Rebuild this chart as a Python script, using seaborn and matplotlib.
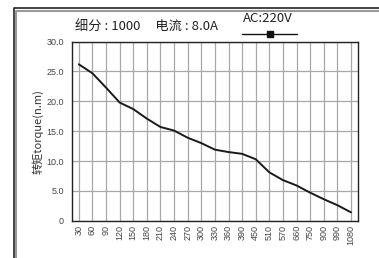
import pandas as pd
import seaborn as sns
import matplotlib.pyplot as plt
from matplotlib.lines import Line2D

# datos
velocidad = ['30', '60', '90', '120', '150', '180', '210', '240', '270', '300', '330',
             '360', '390', '450', '510', '570', '660', '750', '900', '990', '1080']
par = [26.2, 24.7, 22.3, 19.8, 18.7, 17.1, 15.7, 15.1, 13.9, 13.0, 11.9,
       11.5, 11.2, 10.3, 8.1, 6.8, 5.9, 4.7, 3.6, 2.6, 1.4]
y_ticks = [0, 5, 10, 15, 20, 25, 30]
y_labels = ['0', '5.0', '10.0', '15.0', '20.0', '25.0', '30.0']

datos = pd.DataFrame({'velocidad': velocidad, 'par': par})

sns.set_style("white")
plt.rcParams['font.family'] = ['Liberation Sans', 'DejaVu Sans']
cjk = ['Noto Sans CJK SC', 'DejaVu Sans']

fig = plt.figure(figsize=(3.79, 2.58), dpi=100)
ax = fig.add_axes([0.190, 0.1446, 0.754, 0.694])

sns.lineplot(data=datos, x='velocidad', y='par', ax=ax, color='#1a1a1a', linewidth=1.4, sort=False)

ax.set_xlim(-0.5, len(velocidad) - 0.5)
ax.set_ylim(0, 30)
ax.set_yticks(y_ticks)
ax.set_yticklabels(y_labels)
ax.set_xticks(range(len(velocidad)))
ax.set_xticklabels(velocidad, rotation=90)
ax.tick_params(axis='y', length=0, pad=6, labelsize=6.5, labelcolor='#444444')
ax.tick_params(axis='x', length=0, pad=3, labelsize=6.5, labelcolor='#444444')
ax.grid(True, color='#a8a8a8', linewidth=0.9)
ax.set_axisbelow(True)
for s in ax.spines.values():
    s.set_color('#222222')
    s.set_linewidth(1.0)

ax.set_xlabel('')
ax.set_ylabel('转矩torque(n.m)', fontsize=8, color='#333333', family=cjk, labelpad=2)

# titulo
fig.text(75 / 379, 1 - 26 / 258, '细分 : 1000     电流 : 8.0A', fontsize=9.5, color='#222222',
         va='center', ha='left', family=cjk)

# leyenda
fig.text(268 / 379, 1 - 18 / 258, 'AC:220V', fontsize=9.5, color='#222222',
         va='center', ha='center', family=cjk)
fig.add_artist(Line2D([242 / 379, 297 / 379], [1 - 33.5 / 258, 1 - 33.5 / 258],
                      transform=fig.transFigure, color='#111111', linewidth=1.0))
fig.add_artist(Line2D([270 / 379], [1 - 33.5 / 258], transform=fig.transFigure,
                      marker='s', markersize=4, color='#111111', linestyle='none'))

# marco exterior
fig.add_artist(Line2D([13.5 / 379, 13.5 / 379, 1.0], [0, 1 - 8 / 258, 1 - 8 / 258],
                      transform=fig.transFigure, color='#222222', linewidth=1.2))
fig.add_artist(Line2D([15.8 / 379, 15.8 / 379, 1.0], [0, 1 - 11 / 258, 1 - 11 / 258],
                      transform=fig.transFigure, color='#999999', linewidth=1.5))

plt.savefig('out.png', dpi=100)
plt.close()
